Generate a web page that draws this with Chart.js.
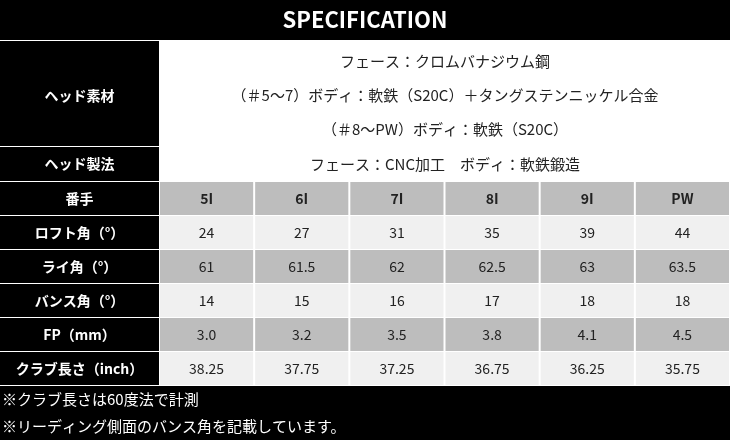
<!DOCTYPE html>
<html><head><meta charset="utf-8">
<script src="https://cdn.jsdelivr.net/npm/chart.js@4"></script>
<style>html,body{margin:0;padding:0;background:#000;}#c{display:block;}</style>
</head><body>
<div style="width:730px;height:440px"><canvas id="c" width="730" height="440"></canvas></div>
<script>
const title = "SPECIFICATION";
const clubs = ["5I","6I","7I","8I","9I","PW"];
const rowLabels = ["ロフト角（°）","ライ角（°）","バンス角（°）","FP（mm）","クラブ長さ（inch）"];
const loft = ["24","27","31","35","39","44"];
const lie = ["61","61.5","62","62.5","63","63.5"];
const bounce = ["14","15","16","17","18","18"];
const fp = ["3.0","3.2","3.5","3.8","4.1","4.5"];
const length = ["38.25","37.75","37.25","36.75","36.25","35.75"];
const materialLabel = "ヘッド素材";
const materialLines = ["フェース：クロムバナジウム鋼","（＃5～7）ボディ：軟鉄（S20C）＋タングステンニッケル合金","（＃8～PW）ボディ：軟鉄（S20C）"];
const methodLabel = "ヘッド製法";
const methodText = "フェース：CNC加工　ボディ：軟鉄鍛造";
const headerLabel = "番手";
const notes = ["※クラブ長さは60度法で計測","※リーディング側面のバンス角を記載しています。"];

const F = '"Noto Sans CJK JP","Noto Sans",sans-serif';
const tablePlugin = {
  id:'table',
  beforeDatasetsDraw(chart){
    const {ctx, scales:{x,y}} = chart;
    const X = v=>x.getPixelForValue(v), Y = v=>y.getPixelForValue(v);
    const rect=(x0,y0,x1,y1,c)=>{ctx.fillStyle=c;ctx.fillRect(X(x0),Y(y0),X(x1)-X(x0),Y(y1)-Y(y0));};
    const text=(t,cx,cy,c,font)=>{ctx.fillStyle=c;ctx.font=font;ctx.textAlign='center';ctx.textBaseline='middle';ctx.fillText(t,X(cx),Y(cy));};
    rect(0,0,730,440,'#000');
    text(title,365,20,'#fff','bold 22px '+F);
    const L=159, colW=(730-L)/6;
    rect(0,40,730,41,'#fff');
    rect(L,41,730,146,'#fff');
    text(materialLabel,L/2,96,'#fff','bold 14px '+F);
    materialLines.forEach((t,i)=>text(t,445,61+i*34,'#222','15px '+F));
    rect(0,146,730,147,'#fff');
    rect(L,147,730,181,'#fff');
    text(methodLabel,L/2,164,'#fff','bold 14px '+F);
    text(methodText,445,164,'#222','15px '+F);
    rect(0,181,730,182,'#fff');
    const rows=[[headerLabel,clubs,'#bdbdbd',true],[rowLabels[0],loft,'#f0f0f0'],[rowLabels[1],lie,'#bdbdbd'],[rowLabels[2],bounce,'#f0f0f0'],[rowLabels[3],fp,'#bdbdbd'],[rowLabels[4],length,'#f0f0f0']];
    const top=182,rh=34;
    rect(L,top,730,top+rows.length*rh,'#fff');
    rows.forEach((r,i)=>{
      const y0=top+i*rh, y1=y0+rh-1;
      text(r[0],L/2,(y0+y1)/2,'#fff','bold 14px '+F);
      r[1].forEach((v,j)=>{
        const x0=L+1+j*colW, x1=L+(j+1)*colW-1;
        rect(x0,y0,x1,y1,r[2]);
        text(v,(x0+x1)/2,(y0+y1)/2,'#222',(r[3]?'bold ':'')+'14px '+F);
      });
      rect(0,y1,730,y1+1,'#fff');
    });
    ctx.fillStyle='#fff';ctx.font='15px '+F;ctx.textAlign='left';ctx.textBaseline='middle';
    notes.forEach((t,i)=>ctx.fillText(t,X(2),Y(399+i*27)));
  }
};
new Chart(document.getElementById('c'),{
  type:'scatter',
  data:{datasets:[{data:[],pointRadius:0}]},
  options:{responsive:false,animation:false,events:[],
    layout:{padding:0},
    plugins:{legend:{display:false},tooltip:{enabled:false}},
    scales:{x:{type:'linear',min:0,max:730,display:false},y:{type:'linear',min:0,max:440,reverse:true,display:false}}},
  plugins:[tablePlugin]
});
</script></body></html>
